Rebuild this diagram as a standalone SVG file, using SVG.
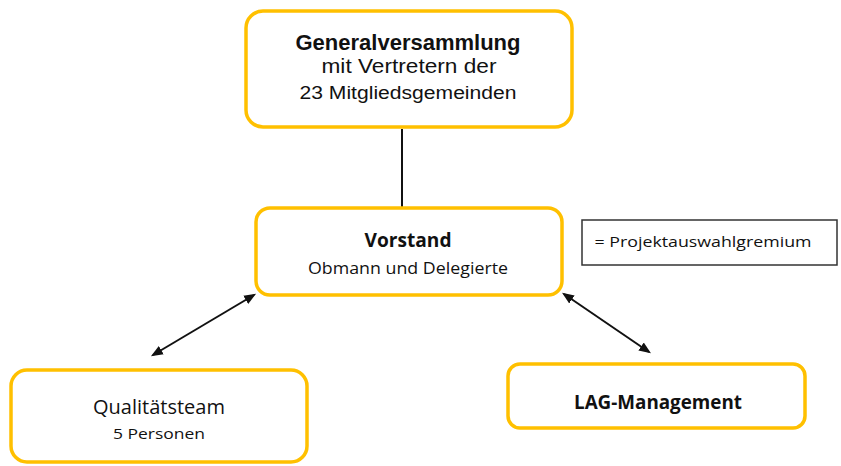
<svg xmlns="http://www.w3.org/2000/svg" width="841" height="466" viewBox="0 0 841 466">
<defs>
<style>
.box{fill:#fff;stroke:#FFC000;stroke-width:3.5}
.t{font-family:"Open Sans","Noto Sans",sans-serif;fill:#111;text-anchor:middle}
.a{font-family:"Liberation Sans",Arial,sans-serif;fill:#111;text-anchor:middle}
.b{font-weight:bold}
.con{stroke:#111;stroke-width:2;fill:none}
</style>
<marker id="ah" viewBox="0 0 10 10" refX="8" refY="5" markerWidth="12" markerHeight="12" orient="auto-start-reverse" markerUnits="userSpaceOnUse">
<path d="M0,1 L10,5 L0,9 z" fill="#111"/>
</marker>
</defs>
<rect width="841" height="466" fill="#fff"/>
<g id="connectors">
<line class="con" x1="402" y1="129" x2="402" y2="208" stroke-width="1.5"/>
<line class="con" x1="153" y1="355" x2="254" y2="295" marker-start="url(#ah)" marker-end="url(#ah)"/>
<line class="con" x1="564" y1="294" x2="649" y2="352" marker-start="url(#ah)" marker-end="url(#ah)"/>
</g>
<g id="generalversammlung">
<rect class="box" x="246" y="11" width="326" height="116" rx="17"/>
<text class="a b" x="408" y="50" font-size="22" textLength="225" lengthAdjust="spacingAndGlyphs">Generalversammlung</text>
<text class="a" x="409" y="73" font-size="20.5" textLength="175" lengthAdjust="spacingAndGlyphs">mit Vertretern der</text>
<text class="a" x="408" y="99" font-size="18" textLength="217" lengthAdjust="spacingAndGlyphs">23 Mitgliedsgemeinden</text>
</g>
<g id="vorstand">
<rect class="box" x="256" y="208" width="306" height="87" rx="14"/>
<text class="t b" x="408" y="247" font-size="20" textLength="87" lengthAdjust="spacingAndGlyphs">Vorstand</text>
<text class="t" x="408" y="274" font-size="15.5" textLength="200" lengthAdjust="spacingAndGlyphs">Obmann und Delegierte</text>
</g>
<g id="legende">
<rect x="582" y="220" width="255" height="45" fill="#fff" stroke="#333" stroke-width="1.5"/>
<text class="t" x="703" y="247" font-size="14" textLength="217" lengthAdjust="spacingAndGlyphs">= Projektauswahlgremium</text>
</g>
<g id="qualitaetsteam">
<rect class="box" x="11" y="370" width="296" height="92" rx="16"/>
<text class="t" x="159" y="414" font-size="20" textLength="132" lengthAdjust="spacingAndGlyphs">Qualitätsteam</text>
<text class="t" x="159" y="439" font-size="15" textLength="92" lengthAdjust="spacingAndGlyphs">5 Personen</text>
</g>
<g id="lag-management">
<rect class="box" x="508" y="364" width="297" height="64" rx="12"/>
<text class="t b" x="658" y="409" font-size="19.5" textLength="168" lengthAdjust="spacingAndGlyphs">LAG-Management</text>
</g>
</svg>
